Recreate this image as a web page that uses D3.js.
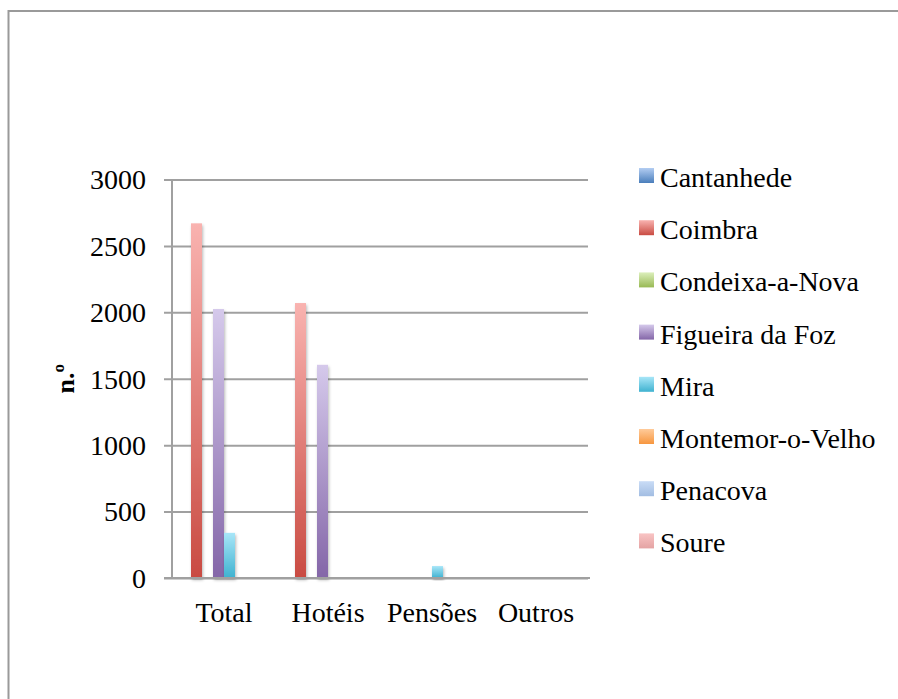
<!DOCTYPE html>
<html>
<head>
<meta charset="utf-8">
<script src="https://cdn.jsdelivr.net/npm/d3@7/dist/d3.min.js"></script>
<style>
  html, body { margin: 0; padding: 0; background: #fff; }
  svg { display: block; }
  text { font-family: "Liberation Serif", "DejaVu Serif", serif; fill: #000; }
</style>
</head>
<body>
<script>
// Categories along the x axis
const categories = ["Total", "Hotéis", "Pensões", "Outros"];

// One series per municipality
const seriesNames = ["Cantanhede", "Coimbra", "Condeixa-a-Nova", "Figueira da Foz",
                     "Mira", "Montemor-o-Velho", "Penacova", "Soure"];

// Values per series, in the order of the categories
const cantanhede   = [0, 0, 0, 0];
const coimbra      = [2670, 2070, 0, 0];
const condeixa     = [0, 0, 0, 0];
const figueira     = [2025, 1605, 0, 0];
const mira         = [340, 0, 90, 0];
const montemor     = [0, 0, 0, 0];
const penacova     = [0, 0, 0, 0];
const soure        = [0, 0, 0, 0];

const seriesValues = [cantanhede, coimbra, condeixa, figueira, mira, montemor, penacova, soure];

// Tick labels on the value axis
const yTicks = [0, 500, 1000, 1500, 2000, 2500, 3000];
const yTitle = "n.º";

// Gradient stops per series: [top colour, bottom colour]
const seriesColors = [
  ["#b3cdf2", "#4a7ebb"],
  ["#f9b3b0", "#c94b42"],
  ["#dcefbc", "#98b954"],
  ["#d5c9eb", "#8466a8"],
  ["#a8e6f8", "#3fb2d0"],
  ["#ffcb9a", "#f7963f"],
  ["#c9dcf6", "#a2bde2"],
  ["#f9c4c4", "#e4a3a3"]
];

const W = 898, H = 699;
const FS = 28;
const svg = d3.select("body").append("svg").attr("width", W).attr("height", H);

const defs = svg.append("defs");
seriesColors.forEach((c, i) => {
  const g = defs.append("linearGradient")
    .attr("id", "grad" + i).attr("x1", 0).attr("y1", 0).attr("x2", 0).attr("y2", 1);
  g.append("stop").attr("offset", "0%").attr("stop-color", c[0]);
  g.append("stop").attr("offset", "100%").attr("stop-color", c[1]);
});
const shadow = defs.append("filter").attr("id", "shadow")
  .attr("x", "-50%").attr("y", "-10%").attr("width", "200%").attr("height", "130%");
shadow.append("feDropShadow").attr("dx", 1).attr("dy", 2)
  .attr("stdDeviation", 1.6).attr("flood-color", "#000").attr("flood-opacity", 0.28);

// Outer frame
svg.append("rect")
  .attr("x", 8.5).attr("y", 11).attr("width", W + 10).attr("height", H + 10)
  .attr("fill", "none").attr("stroke", "#9a9a9a").attr("stroke-width", 2);

// Plot region
const plotL = 172, plotR = 588, plotT = 179.5, plotB = 578;

const x0 = d3.scaleBand().domain(categories).range([plotL, plotR])
  .paddingInner(16 / 104).paddingOuter(8 / 104);
const x1 = d3.scaleBand().domain(d3.range(seriesNames.length)).range([0, x0.bandwidth()]);
const y = d3.scaleLinear().domain([0, 3000]).range([plotB, plotT]);

// Horizontal gridlines with outward tick marks
svg.append("g")
  .attr("transform", `translate(${plotL},0)`)
  .call(d3.axisLeft(y).tickValues(yTicks).tickSize(-(plotR - plotL)).tickFormat(""))
  .call(g => g.select(".domain").remove())
  .call(g => g.selectAll(".tick line")
    .attr("x1", -8).attr("stroke", "#a0a0a0").attr("stroke-width", 2));

// Vertical axis line
svg.append("line")
  .attr("x1", plotL).attr("x2", plotL).attr("y1", plotT).attr("y2", plotB)
  .attr("stroke", "#a0a0a0").attr("stroke-width", 2);

// Value tick labels
svg.append("g").selectAll("text").data(yTicks).join("text")
  .attr("x", 146).attr("y", d => y(d))
  .attr("dy", "0.35em")
  .attr("text-anchor", "end")
  .attr("font-size", FS)
  .text(d => d);

// Axis title
svg.append("text")
  .attr("transform", `translate(74,${(plotT + plotB) / 2}) rotate(-90)`)
  .attr("text-anchor", "middle")
  .attr("font-size", 26).attr("font-weight", "bold")
  .text(yTitle);

// Bars
const groups = svg.append("g").selectAll("g").data(categories).join("g")
  .attr("transform", c => `translate(${x0(c)},0)`);

groups.each(function (c, ci) {
  const rows = seriesValues.map((vals, si) => ({ si, v: vals[ci] })).filter(d => d.v > 0);
  d3.select(this).selectAll("rect").data(rows).join("rect")
    .attr("x", d => x1(d.si))
    .attr("y", d => y(d.v))
    .attr("width", x1.bandwidth())
    .attr("height", d => y(0) - y(d.v))
    .attr("fill", d => `url(#grad${d.si})`)
    .attr("filter", "url(#shadow)");
});

// Baseline (category axis)
svg.append("line")
  .attr("x1", plotL - 8).attr("x2", plotR + 2).attr("y1", plotB).attr("y2", plotB)
  .attr("stroke", "#a0a0a0").attr("stroke-width", 2);

// Category labels
svg.append("g").selectAll("text").data(categories).join("text")
  .attr("x", c => x0(c) + x0.bandwidth() / 2)
  .attr("y", 622)
  .attr("text-anchor", "middle")
  .attr("font-size", FS)
  .text(c => c);

// Legend
const legend = svg.append("g").selectAll("g").data(seriesNames).join("g")
  .attr("transform", (d, i) => `translate(639,${168 + i * 52.2})`);
legend.append("rect")
  .attr("width", 15).attr("height", 15)
  .attr("fill", (d, i) => `url(#grad${i})`);
legend.append("text")
  .attr("x", 21).attr("y", 19)
  .attr("font-size", FS)
  .text(d => d);
</script>
</body>
</html>
